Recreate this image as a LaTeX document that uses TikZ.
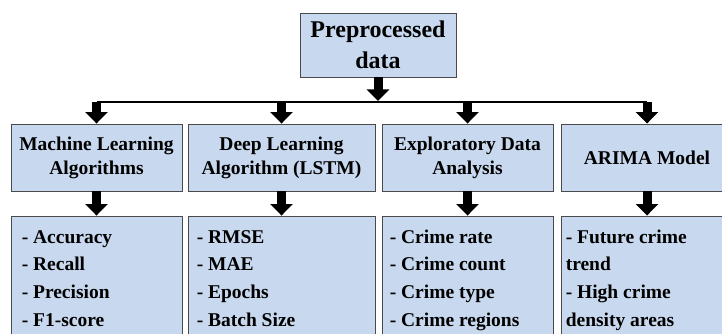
\documentclass[tikz,border=0pt]{standalone}
\usepackage{fontspec}
\setmainfont{Liberation Serif}
\usetikzlibrary{arrows.meta}
\definecolor{boxfill}{HTML}{C8D8EE}
\definecolor{boxline}{HTML}{4A4A4A}
\begin{document}
\begin{tikzpicture}[x=1pt,y=-1pt,
  box/.style={draw=boxline, line width=0.9pt, fill=boxfill, rectangle, inner sep=0pt},
  toptext/.style={font=\bfseries\fontsize{24}{31}\selectfont, align=center},
  headtext/.style={font=\bfseries\fontsize{19.5}{24}\selectfont, align=center},
  listtext/.style={font=\bfseries\fontsize{19.5}{27.7}\selectfont, align=left, inner sep=0pt, anchor=north west},
  blockarrow/.style={line width=9pt, -{Triangle[width=22pt,length=11.5pt]}},
  bus/.style={line width=2pt}]
  % page frame
  \useasboundingbox (0,0) rectangle (722,334);
  \clip (0,0) rectangle (722,334);
  \fill[white] (0,0) rectangle (722,334);

  % root
  \node[box, toptext, minimum width=156pt, minimum height=64pt] (pre) at (378,45) {Preprocessed\\data};

  % methods
  \node[box, headtext, minimum width=171pt, minimum height=67pt] (ml)    at (96.5,157.5) {Machine Learning\\Algorithms};
  \node[box, headtext, minimum width=187pt, minimum height=67pt] (dl)    at (281.5,157.5) {Deep Learning\\Algorithm (LSTM)};
  \node[box, headtext, minimum width=171pt, minimum height=67pt] (eda)   at (467.5,157.5) {Exploratory Data\\Analysis};
  \node[box, headtext, minimum width=172pt, minimum height=67pt] (arima) at (647,157.5) {ARIMA Model};

  % outputs (boxes run past the lower edge)
  \node[box, minimum width=171pt, minimum height=129pt] (mlm)  at (96.5,280.5) {};
  \node[box, minimum width=187pt, minimum height=129pt] (dlm)  at (281.5,280.5) {};
  \node[box, minimum width=171pt, minimum height=129pt] (edam) at (467.5,280.5) {};
  \node[box, minimum width=172pt, minimum height=129pt] (arm)  at (647,280.5) {};

  \node[listtext] (mlt) at ([xshift=11pt,yshift=-8pt]mlm.north west)
    {\strut - Accuracy\\\strut - Recall\\\strut - Precision\\\strut - F1-score};
  \node[listtext] (dlt) at ([xshift=9pt,yshift=-8pt]dlm.north west)
    {\strut - RMSE\\\strut - MAE\\\strut - Epochs\\\strut - Batch Size};
  \node[listtext] (edat) at ([xshift=8pt,yshift=-8pt]edam.north west)
    {\strut - Crime rate\\\strut - Crime count\\\strut - Crime type\\\strut - Crime regions};
  \node[listtext] (art) at ([xshift=5pt,yshift=-8pt]arm.north west)
    {\strut - Future crime\\\strut trend\\\strut - High crime\\\strut density areas};

  % distribution bus
  \coordinate (busy) at (0,102.5);
  \coordinate (busA) at (ml.north |- busy);
  \coordinate (busB) at (dl.north |- busy);
  \coordinate (busC) at (eda.north |- busy);
  \coordinate (busD) at (arima.north |- busy);
  \coordinate (busR) at (pre.south |- busy);
  \draw[bus] (busA) -- (busD);

  % arrows
  \draw[blockarrow] (pre.south) -- ([yshift=1.5pt]busR);
  \draw[blockarrow] (busA) -- (ml.north);
  \draw[blockarrow] (busB) -- (dl.north);
  \draw[blockarrow] (busC) -- (eda.north);
  \draw[blockarrow] (busD) -- (arima.north);
  \draw[blockarrow] (ml.south) -- (mlm.north);
  \draw[blockarrow] (dl.south) -- (dlm.north);
  \draw[blockarrow] (eda.south) -- (edam.north);
  \draw[blockarrow] (arima.south) -- (arm.north);
\end{tikzpicture}
\end{document}
